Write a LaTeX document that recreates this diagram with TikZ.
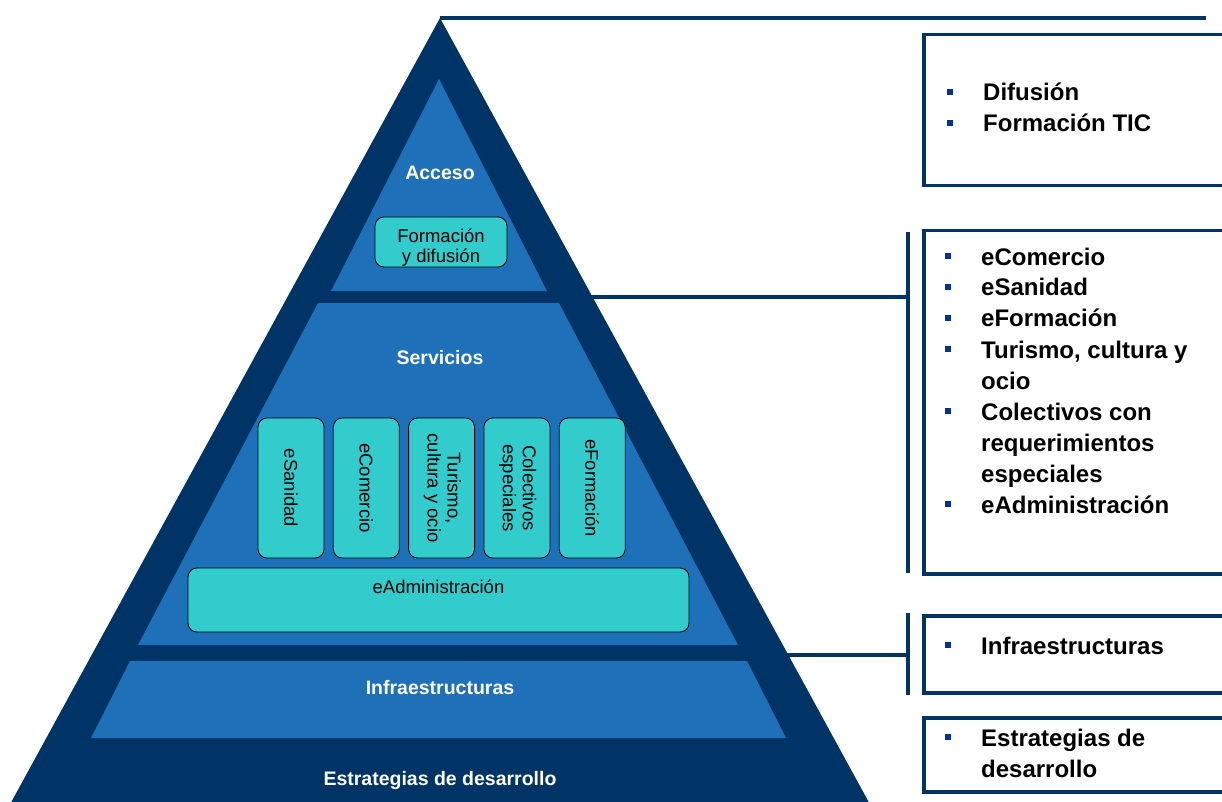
\documentclass[tikz,border=0pt]{standalone}
\usepackage{fontspec}
\setmainfont{Liberation Sans}
\usepackage{graphicx}
\usepackage{array}
\usetikzlibrary{positioning}

\definecolor{navy}{RGB}{0,51,102}
\definecolor{midblue}{RGB}{30,112,184}
\definecolor{tealc}{RGB}{51,204,204}
\definecolor{bulletc}{RGB}{0,51,153}

\newcommand{\blt}{\textcolor{bulletc}{\rule[6pt]{6pt}{6pt}}}
\newcommand{\itemtab}[1]{\begin{tabular}[t]{@{}p{36pt}@{}l@{}}#1\end{tabular}}

\begin{document}
\begin{tikzpicture}[x=1pt, y=-1pt, node distance=8.5pt,
   tealbox/.style={draw=black, line width=0.8pt, fill=tealc, rounded corners=9pt, inner sep=0pt, align=center, font=\fontsize{18.5}{20}\selectfont},
   vbox/.style={tealbox, minimum width=66pt, minimum height=140pt},
   layer/.style={text=white, font=\fontsize{19.5}{22}\selectfont\bfseries},
   listbox/.style={draw=navy, line width=3.5pt, fill=white, anchor=north west, minimum width=330pt},
   listtext/.style={anchor=base west, inner sep=0pt, font=\fontsize{24}{31}\selectfont\bfseries},
   link/.style={draw=navy, line width=3.5pt}
]
\useasboundingbox (0,0) rectangle (1222,802);
\clip (0,0) rectangle (1222,802);

% Pyramid
\fill[navy] (440,18) -- (884,830) -- (-4,830) -- cycle;

% Links
\coordinate (apex) at (440,18);
\coordinate (topend) at (1206,18);
\coordinate (srvout) at (560,297);
\coordinate (srvbar) at (908,297);
\coordinate (srvtop) at (908,232);
\coordinate (srvbot) at (908,573);
\coordinate (infout) at (700,655);
\coordinate (infbar) at (908,655);
\coordinate (inftop) at (908,613);
\coordinate (infbot) at (908,695);
\draw[link] (apex) -- (topend);
\draw[link] (srvout) -- (srvbar);
\draw[link] (srvtop) -- (srvbot);
\draw[link] (infout) -- (infbar);
\draw[link] (inftop) -- (infbot);

% Layers
\fill[midblue] (439,79) -- (547,291) -- (331,291) -- cycle;
\fill[midblue] (318,303) -- (559,303) -- (738,645) -- (138,645) -- cycle;
\fill[midblue] (130,661) -- (747,661) -- (786,738) -- (91,738) -- cycle;

\node[layer] (acceso) at (440,173) {Acceso};
\node[layer] (servicios) at (440,358) {Servicios};
\node[layer] (infra) at (440,688) {Infraestructuras};
\node[layer] (estrat) at (440,780) {Estrategias de desarrollo};

% Teal boxes
\node[tealbox, minimum width=132pt, minimum height=50pt, text height=44pt] (formdif) at (441,242) {Formación\\y difusión};
\node[vbox] (sanidad) at (291,488) {\rotatebox{-90}{eSanidad}};
\node[vbox, right=of sanidad] (comercio) {\rotatebox{-90}{eComercio}};
\node[vbox, right=of comercio] (turismo) {\rotatebox{-90}{\begin{tabular}{@{}c@{}}Turismo,\\cultura y ocio\end{tabular}}};
\node[vbox, right=of turismo] (colect) {\rotatebox{-90}{\begin{tabular}{@{}c@{}}Colectivos\\especiales\end{tabular}}};
\node[vbox, right=of colect] (eform) {\rotatebox{-90}{eFormación}};
\node[tealbox, minimum width=501pt, minimum height=64pt, text depth=26pt] (eadmin) at (438.5,600) {eAdministración};

% Lists
\node[listbox, minimum height=151pt] (accbox) at (922,33) {};
\node[listbox, minimum height=343pt] (srvbox) at (922,229) {};
\node[listbox, minimum height=77pt] (infbox) at (922,614) {};
\node[listbox, minimum height=74pt] (estbox) at (922,716) {};

\node[listtext] (acclist) at (947,101) {\itemtab{\blt & Difusión\\ \blt & Formación TIC}};
\node[listtext] (srvlist) at (945,265) {\itemtab{\blt & eComercio\\ \blt & eSanidad\\ \blt & eFormación\\ \blt & Turismo, cultura y\\ & ocio\\ \blt & Colectivos con\\ & requerimientos\\ & especiales\\ \blt & eAdministración}};
\node[listtext] (inflist) at (945,654) {\itemtab{\blt & Infraestructuras}};
\node[listtext] (estlist) at (945,746) {\itemtab{\blt & Estrategias de\\ & desarrollo}};
\end{tikzpicture}
\end{document}
